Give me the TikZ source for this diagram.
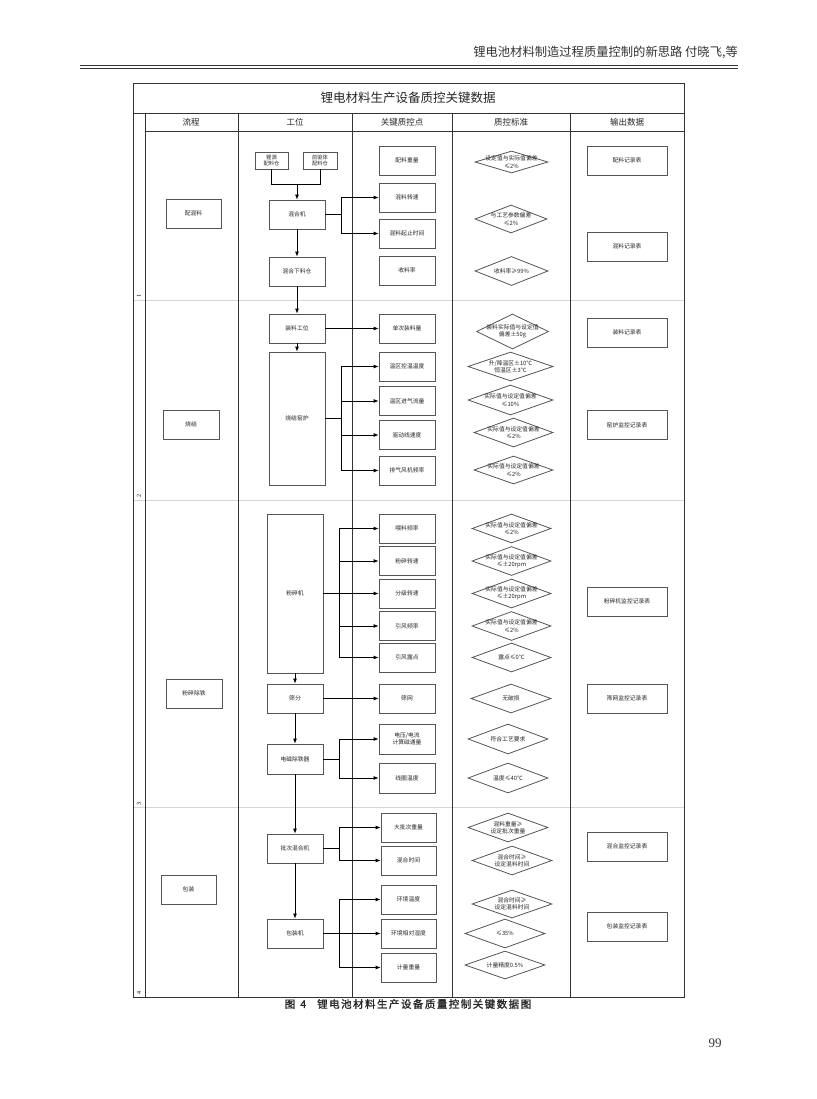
\documentclass[tikz,border=0pt]{standalone}
\usepackage{fontspec}
\setmainfont{Liberation Serif}
\newfontfamily\cjk{Noto Sans CJK SC}
\newfontfamily\capfont[LetterSpace=14,FakeBold=1.2]{Noto Sans CJK SC}
\usetikzlibrary{arrows.meta,shapes.geometric}
\definecolor{tabline}{HTML}{333333}
\definecolor{boxline}{HTML}{555555}
\definecolor{lanesep}{HTML}{D6D6D6}
\begin{document}
\begin{tikzpicture}[x=1pt,y=-1pt,
  tab/.style={draw=tabline,line width=0.9pt},
  lanerule/.style={draw=lanesep,line width=0.9pt},
  box/.style={draw=boxline,line width=0.8pt,minimum width=56pt,minimum height=29pt,inner sep=0pt,
    font=\cjk\fontsize{5.8}{7}\selectfont,align=center,text=black!85},
  smallbox/.style={box,minimum width=33pt,minimum height=17pt,font=\cjk\fontsize{5.3}{6.3}\selectfont},
  outbox/.style={box,minimum width=80pt},
  crit/.style={diamond,draw=boxline,line width=0.8pt,inner sep=0pt,minimum width=80pt,minimum height=29pt},
  critlab/.style={font=\cjk\fontsize{5.8}{7.4}\selectfont,align=center,text=black!85,inner sep=0pt},
  colhead/.style={font=\cjk\fontsize{8.5}{10}\selectfont,text=black!85},
  lanenum/.style={font=\fontsize{6}{7}\selectfont,rotate=90,inner sep=0pt},
  arr/.style={draw=black,line width=0.8pt,-{Latex[length=5pt,width=4pt]}},
  ln/.style={draw=black,line width=0.8pt}]
\path[use as bounding box,fill=white] (0,0) rectangle (816,1099);

% running header
\node[anchor=east,font=\cjk\fontsize{12.3}{14}\selectfont,text=black!80,inner sep=0pt] (runhead) at (738,52) {锂电池材料制造过程质量控制的新思路\ 付晓飞,等};
\draw[draw=black!80,line width=1pt] (80,65.5) -- (738,65.5);
\draw[draw=black!80,line width=1pt] (80,68.5) -- (738,68.5);

% table frame
\path[lanerule] (133,300) -- (684,300);
\path[lanerule] (133,500) -- (684,500);
\path[lanerule] (133,807) -- (684,807);
\draw[tab] (133,83) rectangle (684,997);
\draw[tab] (133,113) -- (684,113);
\draw[tab] (145,131) -- (684,131);
\draw[tab] (145,113) -- (145,997);
\foreach \cx in {238,352,452,570} {\draw[tab] (\cx,113) -- (\cx,997);}

\node[font=\cjk\fontsize{12.5}{14}\selectfont,text=black!85] (title) at (408,98) {锂电材料生产设备质控关键数据};
\node[colhead] (h1) at (191,122) {流程};
\node[colhead] (h2) at (295,122) {工位};
\node[colhead] (h3) at (402,122) {关键质控点};
\node[colhead] (h4) at (511,122) {质控标准};
\node[colhead] (h5) at (627,122) {输出数据};

\node[lanenum] (n1) at (139,296) {1};
\node[lanenum] (n2) at (139,496) {2};
\node[lanenum] (n3) at (139,804) {3};
\node[lanenum] (n4) at (139,993) {4};

% process column
\node[box,minimum width=55pt] (p1) at (193.5,213.5) {配混料};
\node[box] (p2) at (191,424.5) {烧结};
\node[box] (p3) at (194,693.5) {粉碎除铁};
\node[box,minimum width=55pt] (p4) at (188.5,889.5) {包装};

% stations
\node[smallbox] (li) at (271.5,160.5) {锂源\\配料仓};
\node[smallbox,minimum width=34pt] (pre) at (320,160.5) {前驱体\\配料仓};
\node[box] (mix) at (297,214.5) {混合机};
\node[box] (mixbin) at (297,271.5) {混合下料仓};
\node[box] (load) at (297,328.5) {装料工位};
\node[box,minimum height=133pt] (kiln) at (297,418.5) {烧结窑炉};
\node[box,minimum height=159pt] (mill) at (295,593.5) {粉碎机};
\node[box] (sieve) at (295,698.5) {筛分};
\node[box,minimum height=30pt] (iron) at (295,759) {电磁除铁器};
\node[box] (batch) at (295,848.5) {批次混合机};
\node[box] (pack) at (295,933.5) {包装机};

% key points
\node[box] (q1) at (407,160.5) {配料重量};
\node[box] (q2) at (407,197.5) {混料转速};
\node[box] (q3) at (407,233.5) {混料起止时间};
\node[box] (q4) at (407,270.5) {收料率};
\node[box] (q5) at (407,328.5) {单次装料量};
\node[box] (q6) at (407,366.5) {温区控温温度};
\node[box] (q7) at (407,401) {温区进气流量};
\node[box] (q8) at (407,435) {驱动线速度};
\node[box] (q9) at (407,470.5) {排气风机频率};
\node[box] (q10) at (407,528.5) {喂料频率};
\node[box] (q11) at (407,561) {粉碎转速};
\node[box] (q12) at (407,593.5) {分级转速};
\node[box] (q13) at (407,626) {引风频率};
\node[box] (q14) at (407,657.5) {引风露点};
\node[box] (q15) at (407,698.5) {筛网};
\node[box,minimum height=30pt] (q16) at (407,739) {电压/电流\\计算磁通量};
\node[box,minimum height=30pt] (q17) at (407,778) {线圈温度};
\node[box,minimum width=55pt] (q18) at (408.5,827.5) {大批次重量};
\node[box,minimum width=55pt] (q19) at (408.5,860.5) {混合时间};
\node[box,minimum width=55pt] (q20) at (408.5,899.5) {环境温度};
\node[box,minimum width=55pt] (q21) at (408.5,933.5) {环境相对湿度};
\node[box,minimum width=55pt] (q22) at (408.5,967.5) {计量重量};

% criteria
\node[crit,minimum width=73pt,minimum height=22pt,label={[critlab]center:设定值与实际值偏差\\≤2\%}] (s1) at (511.5,162) {};
\node[crit,minimum width=72pt,minimum height=28pt,label={[critlab]center:与工艺参数偏差\\≤2\%}] (s2) at (511,219) {};
\node[crit,minimum width=73pt,label={[critlab]center:收料率≥99\%}] (s3) at (511.5,271) {};
\node[crit,minimum width=72pt,minimum height=35pt,label={[critlab]center:装料实际值与设定值\\偏差±50g}] (s4) at (512.5,331.5) {};
\node[crit,minimum width=85pt,label={[critlab]center:升/降温区±10℃\\恒温区±3℃}] (s5) at (510.5,366.5) {};
\node[crit,minimum width=85pt,minimum height=30pt,label={[critlab]center:实际值与设定值偏差\\≤10\%}] (s6) at (510.5,400) {};
\node[crit,minimum width=79pt,label={[critlab]center:实际值与设定值偏差\\≤2\%}] (s7) at (513.5,432.5) {};
\node[crit,minimum width=79pt,minimum height=28pt,label={[critlab]center:实际值与设定值偏差\\≤2\%}] (s8) at (513.5,470) {};
\node[crit,minimum width=79pt,label={[critlab]center:实际值与设定值偏差\\≤2\%}] (s9) at (511.5,528.5) {};
\node[crit,minimum width=79pt,label={[critlab]center:实际值与设定值偏差\\≤±20rpm}] (s10) at (511.5,561) {};
\node[crit,minimum width=79pt,label={[critlab]center:实际值与设定值偏差\\≤±20rpm}] (s11) at (511.5,593.5) {};
\node[crit,minimum width=79pt,label={[critlab]center:实际值与设定值偏差\\≤2\%}] (s12) at (511.5,626) {};
\node[crit,minimum width=79pt,label={[critlab]center:露点≤0℃}] (s13) at (511.5,657.5) {};
\node[crit,label={[critlab]center:无破损}] (s14) at (511,698.5) {};
\node[crit,minimum height=30pt,label={[critlab]center:符合工艺要求}] (s15) at (508,739) {};
\node[crit,minimum height=30pt,label={[critlab]center:温度≤40℃}] (s16) at (508,778) {};
\node[crit,label={[critlab]center:混料重量≥\\设定批次重量}] (s17) at (508,827.5) {};
\node[crit,label={[critlab]center:混合时间≥\\设定混料时间}] (s18) at (512,860.5) {};
\node[crit,minimum height=28pt,label={[critlab]center:混合时间≥\\设定混料时间}] (s19) at (512,904) {};
\node[crit,label={[critlab]center:≤35\%}] (s20) at (505,933.5) {};
\node[crit,minimum height=28pt,label={[critlab]center:计量精度0.5\%}] (s21) at (505,965) {};

% outputs
\node[outbox] (o1) at (627,160.5) {配料记录表};
\node[outbox] (o2) at (627,246.5) {混料记录表};
\node[outbox] (o3) at (627,332.5) {装料记录表};
\node[outbox] (o4) at (627,425) {窑炉监控记录表};
\node[outbox] (o5) at (627,601.5) {粉碎机监控记录表};
\node[outbox] (o6) at (627,698.5) {筛网监控记录表};
\node[outbox] (o7) at (627,846.5) {混合监控记录表};
\node[outbox] (o8) at (627,926.5) {包装监控记录表};

% connectors
\coordinate (join) at (297,184);
\coordinate (bra) at (341,0);
\coordinate (brb) at (339,0);
\draw[ln] (li.south) |- (join);
\draw[ln] (pre.south) |- (join);
\draw[arr] (join) -- (mix.north);
\draw[arr] (mix.south) -- (mixbin.north);
\draw[arr] (mixbin.south) -- (load.north);
\draw[arr] (load.south) -- (kiln.north);
\draw[arr] (mill.south) -- (sieve.north);
\draw[arr] (sieve.south) -- (iron.north);
\draw[arr] (iron.south) -- (batch.north);
\draw[arr] (batch.south) -- (pack.north);

\foreach \q in {q2,q3} {\draw[arr] (mix.east) -- (mix.east -| bra) |- (\q.west);}
\draw[arr] (load.east) -- (q5.west);
\foreach \q in {q6,q7,q8,q9} {\draw[arr] (kiln.east) -- (kiln.east -| bra) |- (\q.west);}
\foreach \q in {q10,q11,q12,q13,q14} {\draw[arr] (mill.east) -- (mill.east -| brb) |- (\q.west);}
\draw[arr] (sieve.east) -- (q15.west);
\foreach \q in {q16,q17} {\draw[arr] (iron.east) -- (iron.east -| brb) |- (\q.west);}
\foreach \q in {q18,q19} {\draw[arr] (batch.east) -- (batch.east -| brb) |- (\q.west);}
\foreach \q in {q20,q21,q22} {\draw[arr] (pack.east) -- (pack.east -| brb) |- (\q.west);}

% caption and page number
\node[font=\capfont\fontsize{10.5}{12}\selectfont,text=black!85] (cap) at (408,1004) {图\hspace{5pt}4\hspace{11pt}锂电池材料生产设备质量控制关键数据图};
\node[font=\fontsize{13}{15}\selectfont,text=black!80] (pageno) at (715,1043) {99};
\end{tikzpicture}
\end{document}
